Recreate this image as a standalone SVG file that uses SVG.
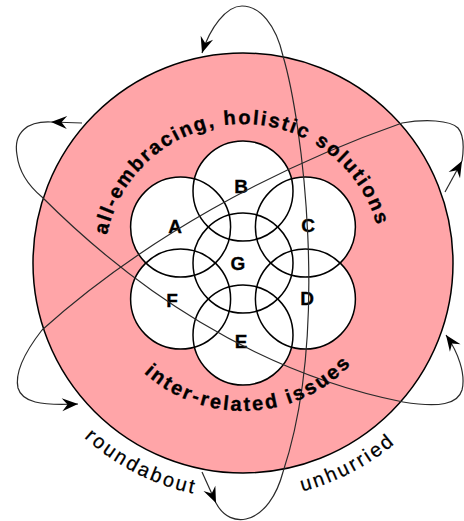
<svg xmlns="http://www.w3.org/2000/svg" width="464" height="521" viewBox="0 0 464 521">
  <style>
    .ring { fill: #ffa5a8; stroke: #000; stroke-width: 1.5; }
    .fillc { fill: #fff; stroke: none; }
    .venn { fill: none; stroke: #000; stroke-width: 1.5; }
    .lbl { font-family: "Liberation Sans", Arial, sans-serif; font-weight: bold; font-size: 19px; text-anchor: middle; fill: #000; stroke: #000; stroke-width: 0.3; }
    .arcb { font-family: "Liberation Sans", Arial, sans-serif; font-weight: bold; font-size: 20px; fill: #000; text-anchor: middle; stroke: #000; stroke-width: 0.35; }
    .arcn { font-family: "Liberation Sans", Arial, sans-serif; font-weight: normal; font-size: 20px; fill: #000; text-anchor: middle; letter-spacing: 2.5px; stroke: #000; stroke-width: 0.25; }
    .orbit { fill: none; stroke: #2a2a2a; stroke-width: 1.2; }
  </style>
  <defs>
    <marker id="ah" viewBox="-17 -7 18 14" markerWidth="18" markerHeight="14" refX="0" refY="0" orient="auto" markerUnits="userSpaceOnUse">
      <path d="M0,0 L-16,-6.5 L-10.5,0 L-16,6.5 Z" fill="#000"/>
    </marker>
    <path id="topArc" d="M104,263 A139,139 0 0 1 382,263"/>
    <path id="botArc" d="M95,263 A148,148 0 0 0 391,263"/>
    <path id="outArc" d="M7,263 A236,236 0 0 0 479,263"/>
  </defs>

  <g id="ring-node">
    <circle class="ring" cx="243" cy="263" r="210"/>
  </g>

  <g id="circle-fills">
    <circle class="fillc" cx="243" cy="263" r="50"/>
    <circle class="fillc" cx="243" cy="191" r="50"/>
    <circle class="fillc" cx="180.6" cy="227" r="50"/>
    <circle class="fillc" cx="180.6" cy="299" r="50"/>
    <circle class="fillc" cx="243" cy="335" r="50"/>
    <circle class="fillc" cx="305.4" cy="299" r="50"/>
    <circle class="fillc" cx="305.4" cy="227" r="50"/>
  </g>

  <g id="node-A">
    <circle class="venn" cx="180.6" cy="227" r="50"/>
    <text class="lbl" x="175" y="233">A</text>
  </g>
  <g id="node-B">
    <circle class="venn" cx="243" cy="191" r="50"/>
    <text class="lbl" x="241" y="193">B</text>
  </g>
  <g id="node-C">
    <circle class="venn" cx="305.4" cy="227" r="50"/>
    <text class="lbl" x="308" y="232">C</text>
  </g>
  <g id="node-D">
    <circle class="venn" cx="305.4" cy="299" r="50"/>
    <text class="lbl" x="307" y="305">D</text>
  </g>
  <g id="node-E">
    <circle class="venn" cx="243" cy="335" r="50"/>
    <text class="lbl" x="241" y="348">E</text>
  </g>
  <g id="node-F">
    <circle class="venn" cx="180.6" cy="299" r="50"/>
    <text class="lbl" x="172" y="307">F</text>
  </g>
  <g id="node-G">
    <circle class="venn" cx="243" cy="263" r="50"/>
    <text class="lbl" x="238" y="270">G</text>
  </g>

  <g id="connectors">
    <!-- vertical orbit -->
    <path class="orbit" d="M202,472 L216,503" marker-end="url(#ah)"/>
    <path class="orbit" d="M216,503 C224,518 236,521 246,519 C264,515 277,495 283,472"/>
    <path class="orbit" d="M283,472 C330,330 302,120 283,56"/>
    <path class="orbit" d="M283,56 C276,25 260,6 242,6 C226,6 210,28 202,53" marker-end="url(#ah)"/>
    <!-- upper-left to lower-right orbit -->
    <path class="orbit" d="M82,123 L51,122" marker-end="url(#ah)"/>
    <path class="orbit" d="M51,122 C28,121 13,132 17,155 C19,172 30,187 42,197"/>
    <path class="orbit" d="M42,197 C132,287 253,372 403,402"/>
    <path class="orbit" d="M403,402 C440,408 458,404 462,390 C466,374 458,352 446,335" marker-end="url(#ah)"/>
    <!-- upper-right to lower-left orbit -->
    <path class="orbit" d="M445,192 L462,161" marker-end="url(#ah)"/>
    <path class="orbit" d="M462,161 C464,148 464,135 458,128 C450,120 425,119 402,123"/>
    <path class="orbit" d="M402,123 C272,168.5 142,240 42,330"/>
    <path class="orbit" d="M42,330 C28,348 14,370 18,388 C22,402 40,406 78,404" marker-end="url(#ah)"/>
  </g>

  <g id="ring-labels">
    <text class="arcb" letter-spacing="2"><textPath href="#topArc" startOffset="49%">all-embracing, holistic solutions</textPath></text>
    <text class="arcb" letter-spacing="2.4"><textPath href="#botArc" startOffset="51.5%">inter-related issues</textPath></text>
  </g>

  <g id="outer-labels">
    <text class="arcn"><textPath href="#outArc" startOffset="35%">roundabout</textPath></text>
    <text class="arcn"><textPath href="#outArc" startOffset="65.3%">unhurried</textPath></text>
  </g>
</svg>
